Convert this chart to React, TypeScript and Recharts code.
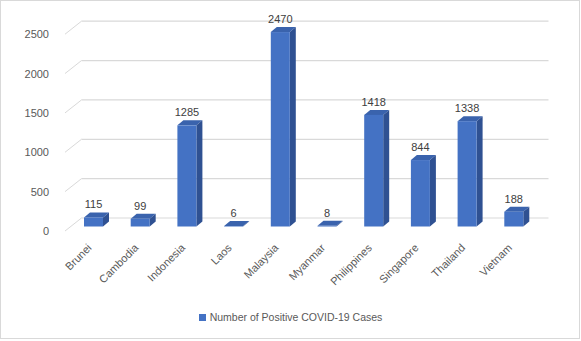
import React from "react"
import { BarChart, Bar, XAxis, YAxis, CartesianGrid, LabelList } from "recharts"

const countries = ["Brunei", "Cambodia", "Indonesia", "Laos", "Malaysia", "Myanmar", "Philippines", "Singapore", "Thailand", "Vietnam"]
const cases = [115, 99, 1285, 6, 2470, 8, 1418, 844, 1338, 188]
const yTicks = [0, 500, 1000, 1500, 2000, 2500]
const seriesName = "Number of Positive COVID-19 Cases"

const data = countries.map((c, i) => ({ country: c, cases: cases[i] }))

const FRONT = "#4472C4"
const TOP = "#3a63ad"
const SIDE = "#2f5192"
const GRID = "#d9d9d9"
const TEXT = "#595959"
const FONT = "'Liberation Sans', Arial, sans-serif"

// depth of the box and of the back wall
const DX = 6
const DY = 5

const Bar3D = (props: any) => {
  const { x, y, width, height } = props
  return (
    <g>
      <polygon
        points={`${x},${y} ${x + DX},${y - DY} ${x + width + DX},${y - DY} ${x + width},${y}`}
        fill={TOP}
      />
      <polygon
        points={`${x + width},${y} ${x + width + DX},${y - DY} ${x + width + DX},${y + height - DY} ${x + width},${y + height}`}
        fill={SIDE}
      />
      <rect x={x} y={y} width={width} height={Math.max(height, 0.5)} fill={FRONT} />
    </g>
  )
}

// gridlines sit on the back wall, with a short diagonal on the side wall
const BackGrid = (props: any) => {
  const { x1, x2, y1 } = props
  return (
    <g key={props.key}>
      <line x1={x1 - 5} y1={y1 + 4.5} x2={x1 + 11.5} y2={y1 - 8.5} stroke={GRID} strokeWidth={1} />
      <line x1={x1 + 11.5} y1={y1 - 8.5} x2={x2 + 11.5} y2={y1 - 8.5} stroke={GRID} strokeWidth={1.2} />
    </g>
  )
}

const YTick = (props: any) => {
  const { x, y, payload } = props
  return (
    <text x={x - 13} y={y + 4.5} dy={4} textAnchor="end" fill={TEXT} fontSize={11} fontFamily={FONT}>
      {payload.value}
    </text>
  )
}

const XTick = (props: any) => {
  const { x, y, payload } = props
  const ax = x - 1
  const ay = y + 14
  return (
    <text
      x={ax}
      y={ay}
      textAnchor="end"
      fill={TEXT}
      fontSize={11}
      fontFamily={FONT}
      transform={`rotate(-45, ${ax}, ${ay})`}
    >
      {payload.value}
    </text>
  )
}

export default function App() {
  return (
    <div style={{ position: "absolute", left: 0, top: 0, width: 581, height: 341, background: "#fff" }}>
      <div
        style={{
          position: "absolute",
          left: 0,
          top: 0,
          width: 578,
          height: 337,
          border: `1px solid ${GRID}`,
        }}
      />
      <BarChart
        width={581}
        height={341}
        data={data}
        margin={{ top: 29.7, right: 44, left: 0, bottom: 54.5 }}
        barSize={19}
      >
        <CartesianGrid vertical={false} horizontal={BackGrid as any} />
        <XAxis dataKey="country" axisLine={false} tickLine={false} height={60} interval={0} tick={<XTick />} />
        <YAxis
          width={70}
          domain={[0, 2500]}
          ticks={yTicks}
          axisLine={false}
          tickLine={false}
          tick={<YTick />}
        />
        <Bar dataKey="cases" shape={<Bar3D />} isAnimationActive={false}>
          <LabelList
            dataKey="cases"
            position="top"
            offset={9}
            fill="#404040"
            fontSize={11}
            fontFamily={FONT}
          />
        </Bar>
      </BarChart>
      <div
        style={{
          position: "absolute",
          top: 311,
          left: 0,
          width: 581,
          display: "flex",
          justifyContent: "center",
          alignItems: "center",
          fontFamily: FONT,
          fontSize: 10.5,
          color: TEXT,
        }}
      >
        <span style={{ display: "inline-block", width: 7, height: 7, background: FRONT, marginRight: 4 }} />
        <span>{seriesName}</span>
      </div>
    </div>
  )
}
